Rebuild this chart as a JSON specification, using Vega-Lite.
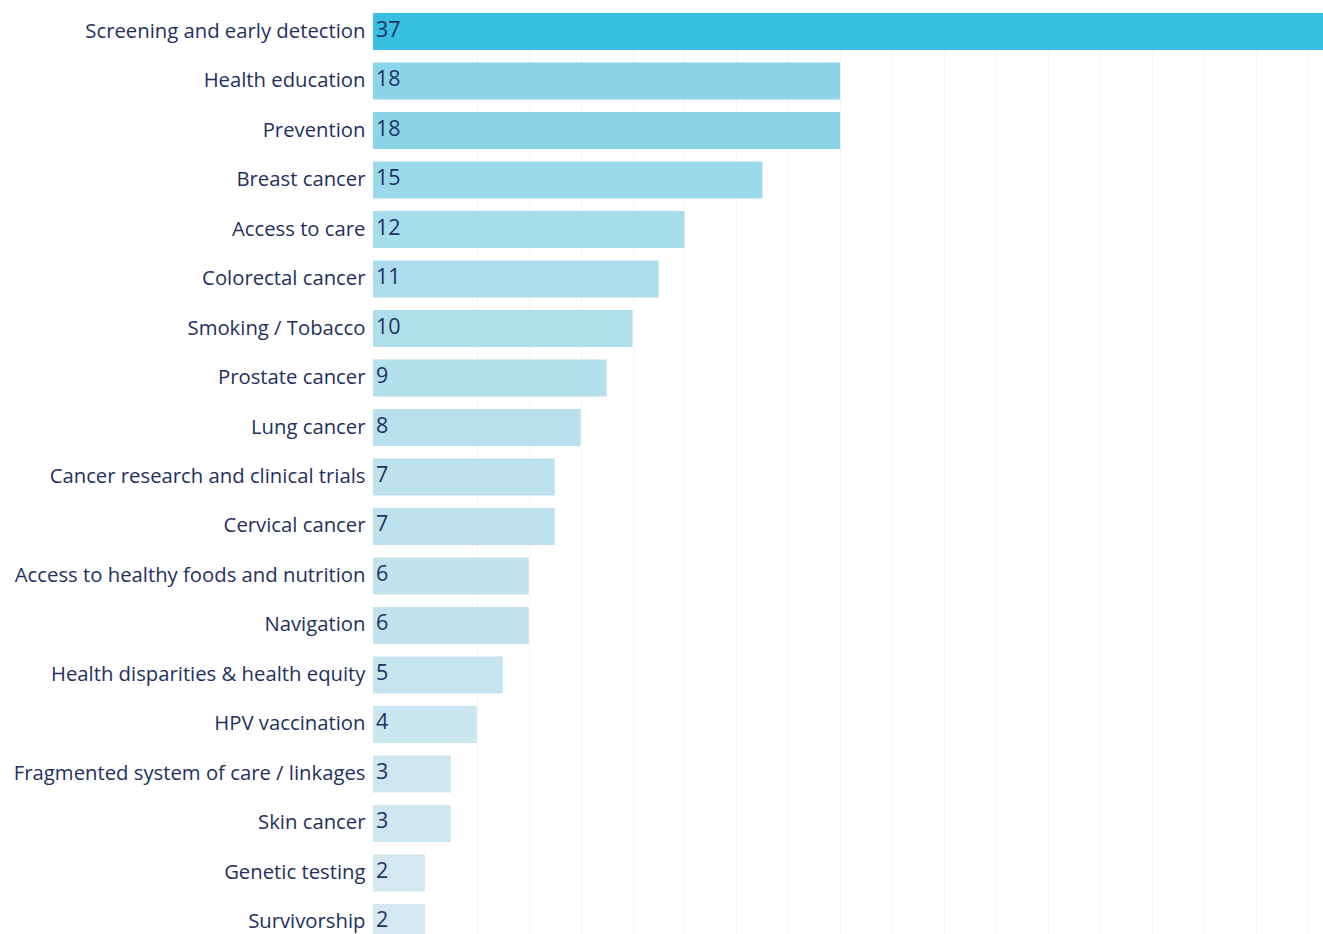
{
  "$schema": "https://vega.github.io/schema/vega-lite/v6.json",
  "autosize": "none",
  "padding": {"left": 373, "top": 13, "right": 0, "bottom": 0},
  "width": 950,
  "height": 928,
  "background": "white",
  "config": {"view": {"stroke": null}},
  "data": {"values": [
    {"topic": "Screening and early detection", "count": 37},
    {"topic": "Health education", "count": 18},
    {"topic": "Prevention", "count": 18},
    {"topic": "Breast cancer", "count": 15},
    {"topic": "Access to care", "count": 12},
    {"topic": "Colorectal cancer", "count": 11},
    {"topic": "Smoking / Tobacco", "count": 10},
    {"topic": "Prostate cancer", "count": 9},
    {"topic": "Lung cancer", "count": 8},
    {"topic": "Cancer research and clinical trials", "count": 7},
    {"topic": "Cervical cancer", "count": 7},
    {"topic": "Access to healthy foods and nutrition", "count": 6},
    {"topic": "Navigation", "count": 6},
    {"topic": "Health disparities & health equity", "count": 5},
    {"topic": "HPV vaccination", "count": 4},
    {"topic": "Fragmented system of care / linkages", "count": 3},
    {"topic": "Skin cancer", "count": 3},
    {"topic": "Genetic testing", "count": 2},
    {"topic": "Survivorship", "count": 2}
  ]},
  "encoding": {
    "y": {
      "field": "topic", "type": "nominal", "sort": null,
      "scale": {"paddingInner": 0.25, "paddingOuter": 0},
      "axis": {"title": null, "ticks": false, "domain": false, "labelPadding": 8,
        "labelFont": "Open Sans", "labelFontSize": 20.3, "labelColor": "#23305e", "labelLimit": 400}
    }
  },
  "layer": [
    {
      "mark": {"type": "bar"},
      "encoding": {
        "x": {"field": "count", "type": "quantitative",
          "scale": {"domain": [0, 36.6], "clamp": true, "nice": false},
          "axis": {"title": null, "labels": false, "ticks": false, "domain": false,
            "values": [4, 6, 8, 10, 12, 14, 16, 18, 20, 22, 24, 26, 28, 30, 32, 34, 36],
            "grid": true, "gridColor": "#f6f6f6", "gridWidth": 1}},
        "color": {"field": "count", "type": "quantitative", "legend": null,
          "scale": {"domain": [2, 37], "range": ["#d3e8ef", "#38bfe2"], "interpolate": "rgb"}}
      }
    },
    {
      "mark": {"type": "text", "align": "left", "baseline": "middle", "dx": 3, "dy": -1,
        "font": "Open Sans", "fontSize": 21.5, "color": "#1f3264"},
      "encoding": {
        "x": {"datum": 0, "type": "quantitative"},
        "text": {"field": "count", "type": "quantitative"}
      }
    }
  ]
}
